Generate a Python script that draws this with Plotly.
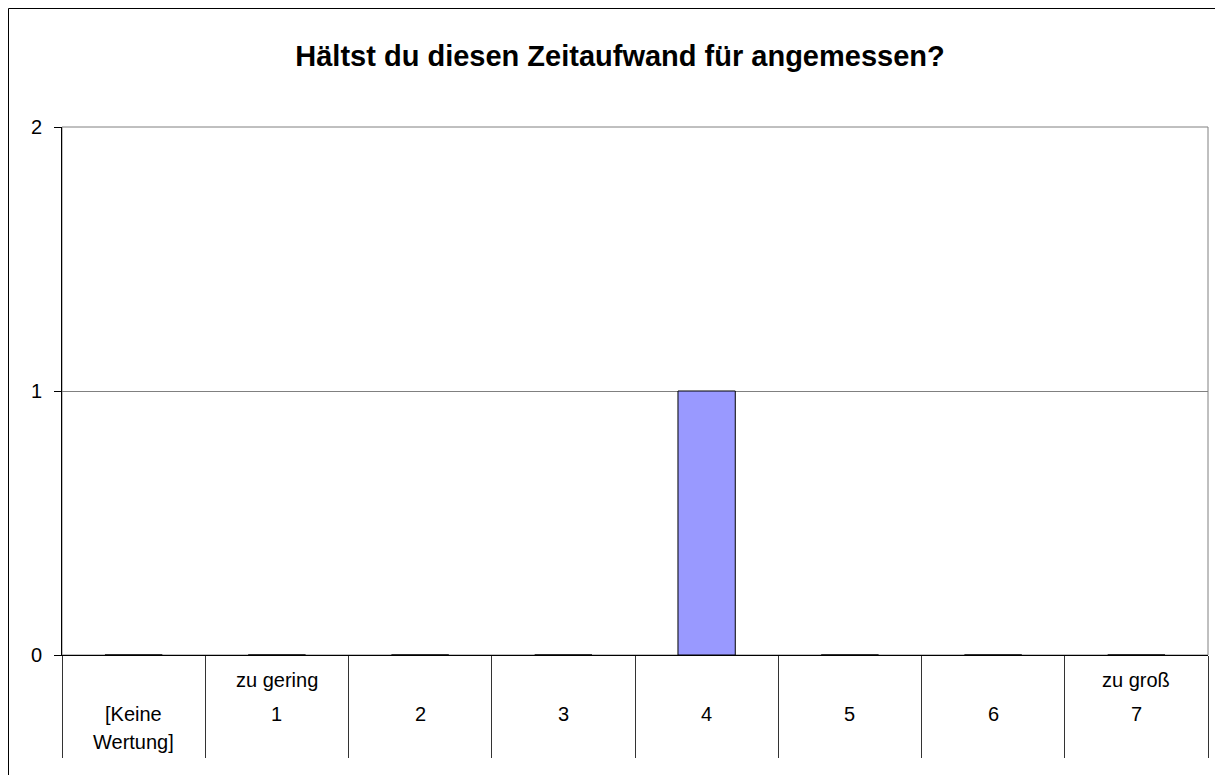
import plotly.graph_objects as go

# survey answer categories and counts
categories = ["[Keine Wertung]", "1", "2", "3", "4", "5", "6", "7"]
counts = [0, 0, 0, 0, 1, 0, 0, 0]

# label rows shown under each category
upper_labels = ["", "zu gering", "", "", "", "", "", "zu groß"]
middle_labels = ["[Keine", "1", "2", "3", "4", "5", "6", "7"]
lower_labels = ["Wertung]", "", "", "", "", "", "", ""]

title_text = "Hältst du diesen Zeitaufwand für angemessen?"

FONT = "Liberation Sans, Arial, sans-serif"

# the page body adds an 8px offset, so the figure is a bit smaller
W, H = 1215, 767
ML, MR, MT, MB = 54, 15, 119, 120
PW, PH = W - ML - MR, H - MT - MB

fig = go.Figure()

fig.add_trace(
    go.Bar(
        x=categories,
        y=counts,
        width=0.4,
        marker={"color": "#9999FF", "line": {"color": "#000000", "width": 1}},
        hoverinfo="x+y",
    )
)

# category label rows (pixel offsets below the axis converted to paper units)
row_y = [(upper_labels, -25 / PH), (middle_labels, -59 / PH), (lower_labels, -87 / PH)]
for labels, y in row_y:
    for cat, text in zip(categories, labels):
        if not text:
            continue
        fig.add_annotation(
            x=cat,
            y=y,
            xref="x",
            yref="paper",
            text=text,
            showarrow=False,
            yanchor="middle",
            font={"size": 20, "color": "#000000", "family": FONT},
        )

# grey frame of the plot area (top and right sides)
fig.add_shape(
    type="rect",
    xref="x domain",
    yref="y domain",
    x0=0,
    x1=1,
    y0=0,
    y1=1,
    line={"color": "#808080", "width": 1},
    layer="below",
)

# outer chart border along the figure's left and top edges
fig.add_shape(
    type="rect",
    xref="paper",
    yref="paper",
    x0=-(ML - 0.5) / PW,
    x1=1 + 40 / PW,
    y0=-140 / PH,
    y1=1 + (MT - 0.5) / PH,
    line={"color": "#000000", "width": 1},
)

fig.update_layout(
    width=W,
    height=H,
    margin={"l": ML, "r": MR, "t": MT, "b": MB},
    paper_bgcolor="#FFFFFF",
    plot_bgcolor="#FFFFFF",
    showlegend=False,
    font={"family": FONT, "size": 20, "color": "#000000"},
    title={
        "text": "<b>" + title_text + "</b>",
        "x": 558 / PW,
        "xref": "paper",
        "xanchor": "center",
        "y": 1 - 48 / H,
        "yref": "container",
        "yanchor": "middle",
        "font": {"size": 29, "family": FONT, "color": "#000000"},
    },
    xaxis={
        "type": "category",
        "tickson": "boundaries",
        "ticks": "outside",
        "ticklen": 102,
        "tickwidth": 1,
        "tickcolor": "#333333",
        "showticklabels": False,
        "showgrid": False,
        "showline": True,
        "linecolor": "#000000",
        "linewidth": 1,
        "zeroline": False,
    },
    yaxis={
        "range": [0, 2],
        "dtick": 1,
        "tick0": 0,
        "ticks": "outside",
        "ticklen": 7,
        "tickcolor": "#000000",
        "ticklabelstandoff": 8,
        "showgrid": True,
        "gridcolor": "#808080",
        "gridwidth": 1,
        "showline": True,
        "linecolor": "#000000",
        "linewidth": 1,
        "zeroline": False,
        "tickfont": {"size": 20},
    },
)

fig.write_html("out.html")
